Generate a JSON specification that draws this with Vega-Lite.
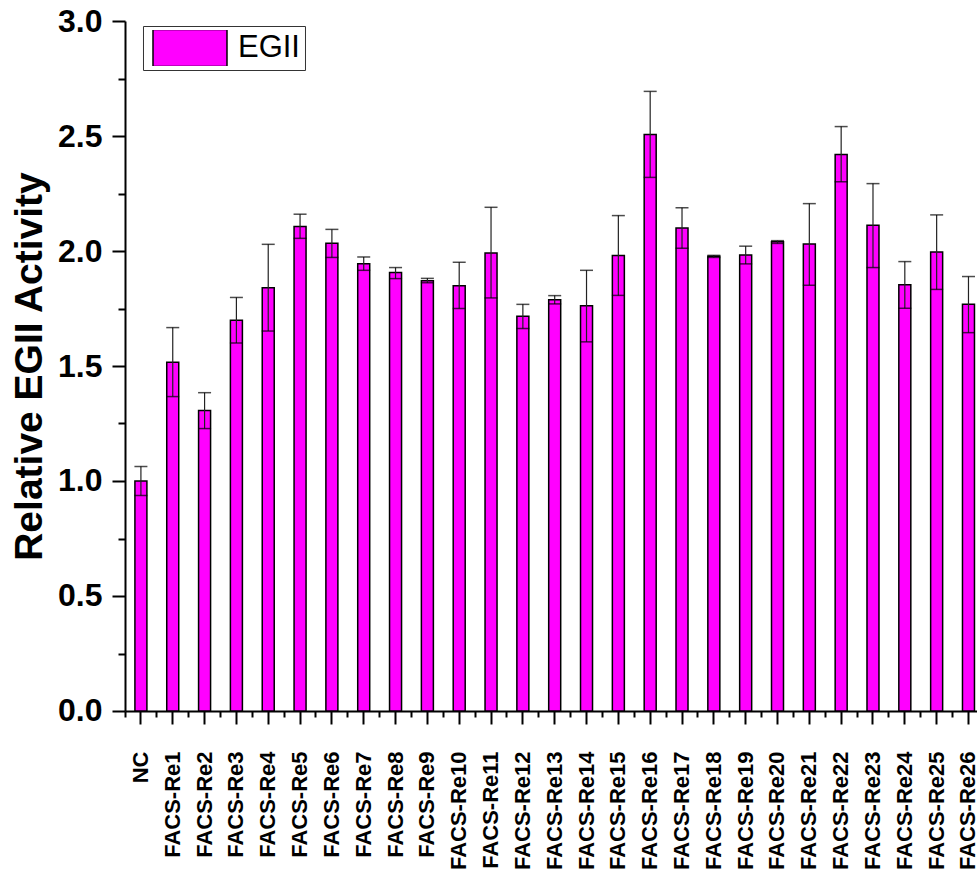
{
  "$schema": "https://vega.github.io/schema/vega-lite/v6.json",
  "width": 859.4,
  "height": 690,
  "autosize": {"type": "none"},
  "padding": {"left": 125, "top": 21, "right": 0, "bottom": 164},
  "background": "white",
  "config": {
    "view": {"stroke": null},
    "font": "Liberation Sans",
    "axis": {"labelColor": "black", "titleColor": "black", "domainColor": "black", "tickColor": "black", "grid": false}
  },
  "data": {
    "values": [
      {"group": "NC", "series": "EGII", "value": 1.0, "lo": 0.937, "hi": 1.063},
      {"group": "FACS-Re1", "series": "EGII", "value": 1.516, "lo": 1.367, "hi": 1.667},
      {"group": "FACS-Re2", "series": "EGII", "value": 1.306, "lo": 1.228, "hi": 1.384},
      {"group": "FACS-Re3", "series": "EGII", "value": 1.699, "lo": 1.6, "hi": 1.798},
      {"group": "FACS-Re4", "series": "EGII", "value": 1.84, "lo": 1.652, "hi": 2.029},
      {"group": "FACS-Re5", "series": "EGII", "value": 2.107, "lo": 2.055, "hi": 2.16},
      {"group": "FACS-Re6", "series": "EGII", "value": 2.034, "lo": 1.972, "hi": 2.094},
      {"group": "FACS-Re7", "series": "EGII", "value": 1.945, "lo": 1.916, "hi": 1.974},
      {"group": "FACS-Re8", "series": "EGII", "value": 1.906, "lo": 1.88, "hi": 1.928},
      {"group": "FACS-Re9", "series": "EGII", "value": 1.871, "lo": 1.862, "hi": 1.881},
      {"group": "FACS-Re10", "series": "EGII", "value": 1.849, "lo": 1.75, "hi": 1.951},
      {"group": "FACS-Re11", "series": "EGII", "value": 1.991, "lo": 1.796, "hi": 2.19},
      {"group": "FACS-Re12", "series": "EGII", "value": 1.716, "lo": 1.663, "hi": 1.768},
      {"group": "FACS-Re13", "series": "EGII", "value": 1.788, "lo": 1.77, "hi": 1.806},
      {"group": "FACS-Re14", "series": "EGII", "value": 1.762, "lo": 1.605, "hi": 1.916},
      {"group": "FACS-Re15", "series": "EGII", "value": 1.98, "lo": 1.807, "hi": 2.154},
      {"group": "FACS-Re16", "series": "EGII", "value": 2.507, "lo": 2.32, "hi": 2.694},
      {"group": "FACS-Re17", "series": "EGII", "value": 2.1, "lo": 2.012, "hi": 2.188},
      {"group": "FACS-Re18", "series": "EGII", "value": 1.977, "lo": 1.972, "hi": 1.981},
      {"group": "FACS-Re19", "series": "EGII", "value": 1.983, "lo": 1.944, "hi": 2.021},
      {"group": "FACS-Re20", "series": "EGII", "value": 2.04, "lo": 2.033, "hi": 2.045},
      {"group": "FACS-Re21", "series": "EGII", "value": 2.03, "lo": 1.851, "hi": 2.206},
      {"group": "FACS-Re22", "series": "EGII", "value": 2.42, "lo": 2.301, "hi": 2.541},
      {"group": "FACS-Re23", "series": "EGII", "value": 2.112, "lo": 1.928, "hi": 2.293},
      {"group": "FACS-Re24", "series": "EGII", "value": 1.853, "lo": 1.751, "hi": 1.954},
      {"group": "FACS-Re25", "series": "EGII", "value": 1.996, "lo": 1.833, "hi": 2.157},
      {"group": "FACS-Re26", "series": "EGII", "value": 1.768, "lo": 1.645, "hi": 1.889}
    ]
  },
  "resolve": {"axis": {"x": "independent", "y": "independent"}},
  "layer": [
    {
      "mark": {"type": "bar", "width": 12, "stroke": "black", "strokeWidth": 1.5},
      "encoding": {
        "x": {
          "field": "group", "type": "nominal", "sort": null,
          "scale": {"paddingInner": 0, "paddingOuter": 0},
          "axis": {
            "orient": "bottom", "title": null, "bandPosition": 0.5,
            "labelAngle": -90, "labelAlign": "right", "labelBaseline": "middle",
            "labelFont": "Liberation Sans", "labelFontSize": 22, "labelFontWeight": "bold",
            "labelPadding": 27, "labelOverlap": false, "tickSize": 13, "tickWidth": 2, "domainWidth": 2
          }
        },
        "y": {
          "field": "value", "type": "quantitative",
          "scale": {"domain": [0, 3], "nice": false, "zero": true},
          "axis": {
            "orient": "left", "title": "Relative EGII Activity",
            "values": [0, 0.5, 1, 1.5, 2, 2.5, 3], "format": ".1f",
            "labelFont": "Liberation Sans", "labelFontSize": 32, "labelFontWeight": "bold",
            "labelPadding": 10, "tickSize": 13, "tickWidth": 2, "domainWidth": 2,
            "titleFont": "Liberation Sans", "titleFontSize": 39, "titleFontWeight": "bold",
            "titlePadding": 8
          }
        },
        "color": {
          "field": "series", "type": "nominal",
          "scale": {"domain": ["EGII"], "range": ["#FF00FF"]},
          "legend": {
            "title": null, "orient": "none", "legendX": 18, "legendY": 5,
            "symbolType": "M-1,-0.5L1,-0.5L1,0.5L-1,0.5Z", "symbolSize": 5476,
            "symbolStrokeColor": "black", "symbolStrokeWidth": 1.5, "symbolFillColor": "#FF00FF",
            "clipHeight": 36, "padding": 4, "symbolOffset": 5, "labelOffset": 10,
            "labelExpr": "datum.label + '\u2002'",
            "labelFont": "Liberation Sans", "labelFontSize": 31, "labelColor": "black",
            "strokeColor": "#333333", "fillColor": "white"
          }
        }
      }
    },
    {
      "mark": {"type": "rule", "color": "#222222", "strokeWidth": 1.2},
      "encoding": {
        "x": {
          "field": "group", "type": "nominal", "sort": null,
          "axis": {
            "orient": "bottom", "title": null, "bandPosition": 0, "labels": false,
            "domain": false, "tickSize": 6, "tickWidth": 2
          }
        },
        "y": {
          "field": "lo", "type": "quantitative",
          "axis": {
            "orient": "left", "title": null, "values": [0.25, 0.75, 1.25, 1.75, 2.25, 2.75],
            "labels": false, "domain": false, "tickSize": 7, "tickWidth": 2
          }
        },
        "y2": {"field": "hi"}
      }
    },
    {
      "mark": {"type": "tick", "color": "black", "thickness": 1.5, "size": 13},
      "encoding": {
        "x": {"field": "group", "type": "nominal", "sort": null, "axis": null},
        "y": {"field": "hi", "type": "quantitative", "axis": null}
      }
    },
    {
      "mark": {"type": "tick", "color": "black", "thickness": 1.5, "size": 13},
      "encoding": {
        "x": {"field": "group", "type": "nominal", "sort": null, "axis": null},
        "y": {"field": "lo", "type": "quantitative", "axis": null}
      }
    }
  ]
}
